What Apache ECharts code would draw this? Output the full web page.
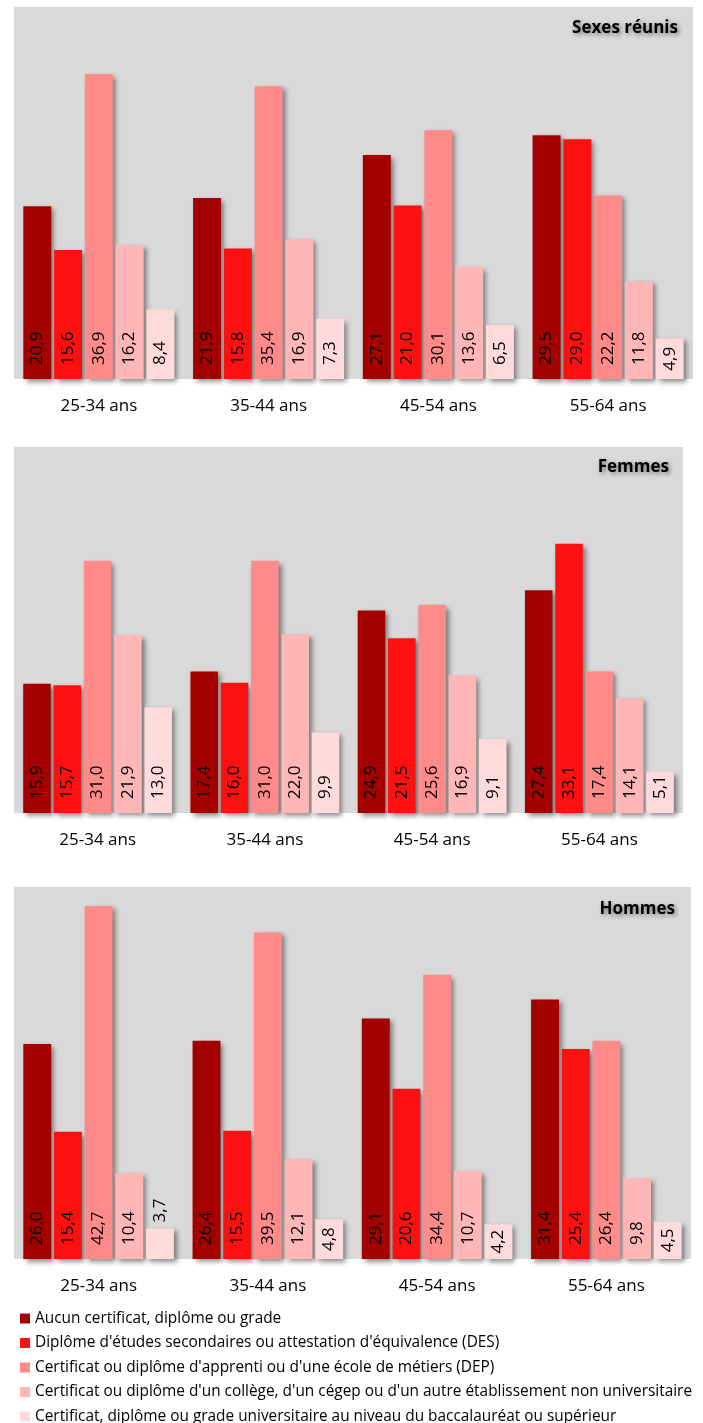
<!DOCTYPE html>
<html><head><meta charset="utf-8">
<script src="https://cdn.jsdelivr.net/npm/echarts@6/dist/echarts.min.js"></script>
<style>html,body{margin:0;padding:0;background:#fff}#c{width:703px;height:1423px}</style>
</head><body><div id="c"></div>
<script>
const categories = ['25-34 ans','35-44 ans','45-54 ans','55-64 ans'];
const seriesNames = [
  'Aucun certificat, diplôme ou grade',
  "Diplôme d'études secondaires ou attestation d'équivalence (DES)",
  "Certificat ou diplôme d'apprenti ou d'une école de métiers (DEP)",
  "Certificat ou diplôme d'un collège, d'un cégep ou d'un autre établissement non universitaire",
  'Certificat, diplôme ou grade universitaire au niveau du baccalauréat ou supérieur'
];
const panelTitles = ['Sexes réunis','Femmes','Hommes'];
// Sexes réunis
const sexesAucun = [20.9, 21.9, 27.1, 29.5];
const sexesDES   = [15.6, 15.8, 21.0, 29.0];
const sexesDEP   = [36.9, 35.4, 30.1, 22.2];
const sexesCol   = [16.2, 16.9, 13.6, 11.8];
const sexesUniv  = [8.4, 7.3, 6.5, 4.9];
// Femmes
const femAucun = [15.9, 17.4, 24.9, 27.4];
const femDES   = [15.7, 16.0, 21.5, 33.1];
const femDEP   = [31.0, 31.0, 25.6, 17.4];
const femCol   = [21.9, 22.0, 16.9, 14.1];
const femUniv  = [13.0, 9.9, 9.1, 5.1];
// Hommes
const homAucun = [26.0, 26.4, 29.1, 31.4];
const homDES   = [15.4, 15.5, 20.6, 25.4];
const homDEP   = [42.7, 39.5, 34.4, 26.4];
const homCol   = [10.4, 12.1, 10.7, 9.8];
const homUniv  = [3.7, 4.8, 4.2, 4.5];

const panels = [
  [sexesAucun, sexesDES, sexesDEP, sexesCol, sexesUniv],
  [femAucun, femDES, femDEP, femCol, femUniv],
  [homAucun, homDES, homDEP, homCol, homUniv]
];
const colors = ['#A50000','#FF1010','#FF8A8A','#FFB6B6','#FFDADA'];
const FONT = "'Open Sans', 'Noto Sans', sans-serif";

const grids = [
  {left:14, top:7, width:679, height:372},
  {left:14, top:447, width:669, height:366},
  {left:14, top:887, width:677, height:372}
];
const titlePos = [
  {right:25, top:20},
  {right:34, top:459},
  {right:28, top:901}
];

function fmt(v){ return v.toFixed(1).replace('.', ','); }
function labelFor(v){
  const base = {show:true, rotate:90, color:'#000', fontFamily:FONT, fontSize:17,
    formatter: p => fmt(p.value)};
  if (v < 4) return Object.assign(base, {position:'top', align:'left', verticalAlign:'middle', distance:6});
  if (v < 5) return Object.assign(base, {position:'inside', align:'center', verticalAlign:'middle'});
  return Object.assign(base, {position:'insideBottom', align:'left', verticalAlign:'middle', distance:14});
}

const series = [];
panels.forEach((vals, pi) => {
  vals.forEach((arr, si) => {
    series.push({
      type:'bar', name: seriesNames[si], xAxisIndex: pi, yAxisIndex: pi,
      barGap:'10%', barCategoryGap:'11%',
      itemStyle:{color: colors[si], shadowColor:'rgba(0,0,0,0.45)', shadowBlur:5, shadowOffsetX:3, shadowOffsetY:3},
      data: arr.map(v => ({value:v, label: labelFor(v)})),
      animation:false
    });
  });
});

const option = {
  animation:false,
  textStyle:{fontFamily:FONT},
  title: panelTitles.map((t,i) => Object.assign({
    text:t, padding:0,
    textStyle:{fontFamily:FONT, fontWeight:'bold', fontSize:17, color:'#000',
      textShadowColor:'rgba(0,0,0,0.45)', textShadowBlur:4, textShadowOffsetX:2, textShadowOffsetY:2}
  }, titlePos[i])),
  grid: grids.map(g => Object.assign({show:true, backgroundColor:'#D9D9D9', borderWidth:0, containLabel:false}, g)),
  xAxis: grids.map((g,i) => ({
    type:'category', gridIndex:i, data:categories,
    axisLine:{show:false}, axisTick:{show:false}, splitLine:{show:false},
    axisLabel:{color:'#000', fontFamily:FONT, fontSize:17, margin:19}
  })),
  yAxis: grids.map((g,i) => ({
    type:'value', gridIndex:i, min:0, max:45, interval:5, show:false, splitLine:{show:false}
  })),
  legend: {
    orient:'vertical', left:20, top:1311, height:200, padding:0,
    itemWidth:10, itemHeight:10, itemGap:9.5, icon:'rect',
    data: seriesNames.map((n,i) => ({name:n, itemStyle:{color:colors[i]}})),
    textStyle:{fontFamily:FONT, fontSize:15.4, color:'#000', lineHeight:14},
    selectedMode:false
  },
  series: series
};
const chart = echarts.init(document.getElementById('c'), null, {renderer:'canvas'});
chart.setOption(option);
</script></body></html>
